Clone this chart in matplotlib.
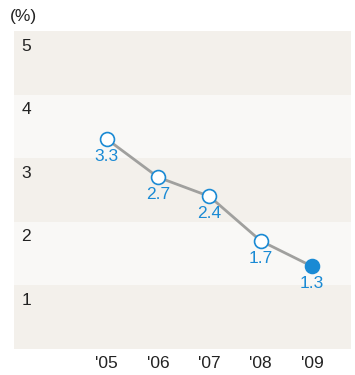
import matplotlib.pyplot as plt

plt.rcParams["font.family"] = ["Liberation Sans", "DejaVu Sans"]

years = ["'05", "'06", "'07", "'08", "'09"]
rates = [3.3, 2.7, 2.4, 1.7, 1.3]
y_ticks = [1, 2, 3, 4, 5]

BLUE = "#1a8ad4"
LINE = "#a0a09e"
BAND_DARK = "#f3f0eb"
BAND_LIGHT = "#f9f8f6"

fig = plt.figure(figsize=(3.55, 3.75), dpi=100)
ax = fig.add_axes([14 / 355, 1 - 349 / 375, 337 / 355, 318 / 375])

# alternating horizontal bands, one per unit
for i in range(5):
    ax.axhspan(i, i + 1, color=BAND_DARK if i % 2 == 0 else BAND_LIGHT, lw=0, zorder=0)

x = list(range(len(years)))
ax.plot(x, rates, color=LINE, lw=2, zorder=2)
ax.plot(x[:-1], rates[:-1], "o", ms=10, mfc="white", mec=BLUE, mew=1.2, zorder=3)
ax.plot(x[-1:], rates[-1:], "o", ms=10, mfc=BLUE, mec=BLUE, mew=1.2, zorder=3)

for xi, v in zip(x, rates):
    ax.annotate(f"{v}", (xi, v), xytext=(0, -12.5), textcoords="offset points",
                ha="center", va="center", color=BLUE, fontsize=12.5)

# y labels sit just under each gridline, inside the plot
for t in y_ticks:
    ax.text(-1.67, t - 0.12, str(t), ha="left", va="top", fontsize=12.5, color="#222222")

ax.set_xlim(-1.81, 4.76)
ax.set_ylim(0, 5)
ax.set_xticks(x)
ax.set_xticklabels(years, fontsize=12.5, color="#222222")
ax.set_yticks([])
ax.tick_params(axis="x", length=0, pad=5)
for s in ax.spines.values():
    s.set_visible(False)

fig.text(10 / 355, 1 - 17 / 375, "(%)", ha="left", va="center", fontsize=12.5, color="#222222")

fig.savefig("out.png", dpi=100)
